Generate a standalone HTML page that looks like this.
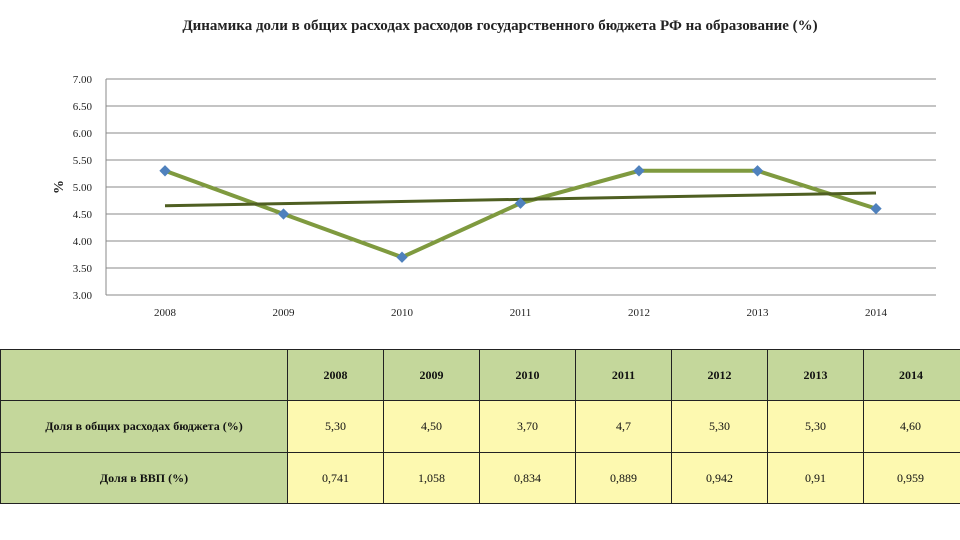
<!DOCTYPE html>
<html><head><meta charset="utf-8">
<style>
body{margin:0;background:#fff;width:960px;height:540px;overflow:hidden;font-family:"Liberation Serif",serif;position:relative}
#title{position:absolute;left:170px;top:16px;width:660px;text-align:center;font-weight:bold;font-size:15px;line-height:21px;color:#222}
table{position:absolute;left:0;top:349px;border-collapse:collapse;font-size:12px;color:#111;table-layout:fixed;width:1000px}
td{border:1.5px solid #222;text-align:center;padding:0;white-space:nowrap}
td.g{background:#c4d79b}
td.y{background:#fdf9b0}
td.h{font-weight:bold}
</style></head><body>
<div id="title">Динамика доли в общих расходах расходов государственного бюджета РФ на образование (%)</div>
<svg id="chart" width="960" height="340" style="position:absolute;left:0;top:0"></svg>
<table>
<colgroup><col style="width:287px"><col style="width:96px"><col style="width:96px"><col style="width:96px"><col style="width:96px"><col style="width:96px"><col style="width:96px"><col style="width:137px"></colgroup>
<tr style="height:51px"><td class="g"></td>
<td class="g h">2008</td><td class="g h">2009</td><td class="g h">2010</td><td class="g h">2011</td><td class="g h">2012</td><td class="g h">2013</td><td class="g h" style="text-align:left;padding-left:35px">2014</td></tr>
<tr style="height:52px"><td class="g h">Доля в общих расходах бюджета (%)</td>
<td class="y">5,30</td><td class="y">4,50</td><td class="y">3,70</td><td class="y">4,7</td><td class="y">5,30</td><td class="y">5,30</td><td class="y" style="text-align:left;padding-left:36px">4,60</td></tr>
<tr style="height:51px"><td class="g h">Доля в ВВП (%)</td>
<td class="y">0,741</td><td class="y">1,058</td><td class="y">0,834</td><td class="y">0,889</td><td class="y">0,942</td><td class="y">0,91</td><td class="y" style="text-align:left;padding-left:33px">0,959</td></tr>
</table>
<script>
const categories=["2008","2009","2010","2011","2012","2013","2014"];
const values=[5.3,4.5,3.7,4.7,5.3,5.3,4.6];
const yTicks=[3,3.5,4,4.5,5,5.5,6,6.5,7];
const NS="http://www.w3.org/2000/svg";
const svg=document.getElementById('chart');
const L=106,R=936,T=79,B=295,yMin=3,yMax=7;
const x0=165,dx=118.5;
function X(i){return x0+i*dx;}
function Y(v){return B-(v-yMin)/(yMax-yMin)*(B-T);}
function el(t,a){const e=document.createElementNS(NS,t);for(const k in a)e.setAttribute(k,a[k]);svg.appendChild(e);return e;}
yTicks.forEach(v=>{
 const g=el('line',{x1:L,x2:R,y1:Y(v),y2:Y(v),stroke:'#888','stroke-width':1});
 
 
 const t=el('text',{x:92,y:Y(v)+4,'text-anchor':'end','font-size':11,fill:'#222','font-family':'Liberation Serif'});
 t.textContent=v.toFixed(2);
 
 
});
const ax=el('line',{x1:L,x2:L,y1:T,y2:B,stroke:'#888'});


categories.forEach((c,i)=>{
 const t=el('text',{x:X(i),y:316,'text-anchor':'middle','font-size':11,fill:'#222','font-family':'Liberation Serif'});
 t.textContent=c;
 
 
});
const yt=el('text',{x:0,y:0,transform:'translate(63,187) rotate(-90)','text-anchor':'middle','font-size':14,'font-weight':'bold',fill:'#222','font-family':'Liberation Serif'});
yt.textContent='%';


const pl=el('polyline',{points:values.map((v,i)=>X(i)+','+Y(v)).join(' '),fill:'none',stroke:'#7f9a3f','stroke-width':4,'stroke-linejoin':'round'});


const n=values.length,mx=(n-1)/2,my=values.reduce((a,b)=>a+b,0)/n;
let sxy=0,sxx=0;values.forEach((v,i)=>{sxy+=(i-mx)*(v-my);sxx+=(i-mx)*(i-mx);});
const s=sxy/sxx;
const tr=el('line',{x1:X(0),y1:Y(my-s*mx),x2:X(n-1),y2:Y(my+s*mx),stroke:'#4f5f22','stroke-width':3});


values.forEach((v,i)=>{
 const d=el('rect',{x:X(i)-4,y:Y(v)-4,width:8,height:8,fill:'#4f81bd',transform:`rotate(45 ${X(i)} ${Y(v)})`});
 
 
});
</script>
</body></html>
